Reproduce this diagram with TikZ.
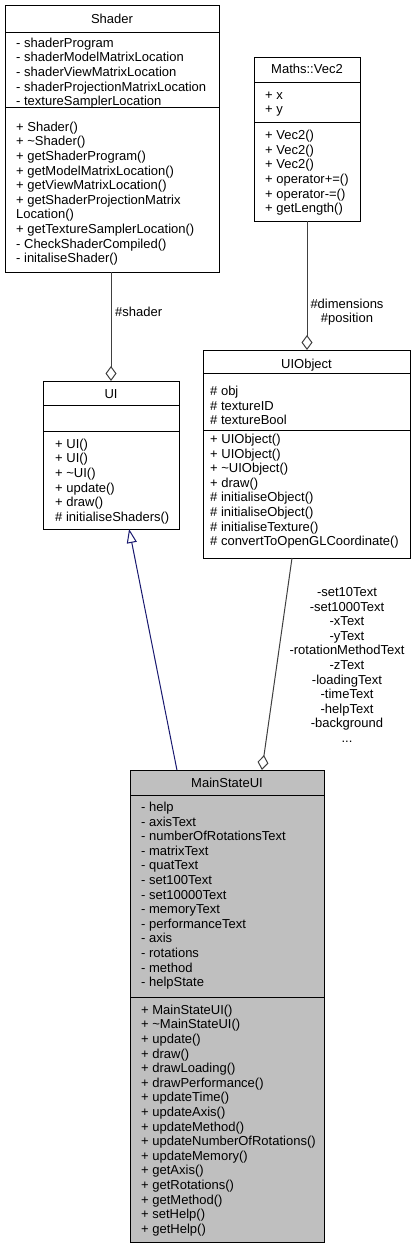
\documentclass[tikz,border=0pt]{standalone}
\usepackage{fontspec}
\setmainfont{Liberation Sans}
\usetikzlibrary{arrows.meta,calc}
\definecolor{edgegray}{HTML}{404040}
\definecolor{navyblue}{HTML}{191970}
\definecolor{mainfill}{HTML}{BFBFBF}
\newcommand\umlfont{\fontsize{13}{14.6}\selectfont}
\tikzset{
  cls/.style={draw=black, line width=1pt, inner sep=0pt, outer sep=0pt, fill=white},
  ttl/.style={font=\umlfont, inner sep=0pt, anchor=base},
  txt/.style={font=\umlfont, align=left, inner sep=0pt, anchor=west, yshift=-2pt},
  sepline/.style={draw=black, line width=1pt},
  agg/.style={draw=edgegray, line width=1pt, -{Diamond[open,length=15pt,width=11pt]}},
  inh/.style={draw=navyblue, line width=1pt, -{Triangle[open,length=14pt,width=10pt]}},
  lbl/.style={font=\umlfont, align=center, inner sep=0pt}
}
\begin{document}
\begin{tikzpicture}[x=1pt,y=-1pt]
\path[use as bounding box, fill=white] (0,0) rectangle (416,1248);

% Shader
\node[cls, minimum width=214pt, minimum height=267pt] (shader) at (112,138.5) {};
\draw[sepline] ($(shader.north west)+(0,27)$) -- ($(shader.north east)+(0,27)$);
\draw[sepline] ($(shader.north west)+(0,102)$) -- ($(shader.north east)+(0,102)$);
\node[ttl] (shadert) at (112,23.5) {Shader};
\node[txt] (shadera) at (16,71.5) {\strut- shaderProgram\\- shaderModelMatrixLocation\\- shaderViewMatrixLocation\\- shaderProjectionMatrixLocation\\- textureSamplerLocation\strut};
\node[txt] (shaderm) at (16,192) {\strut+ Shader()\\+ \textasciitilde Shader()\\+ getShaderProgram()\\+ getModelMatrixLocation()\\+ getViewMatrixLocation()\\+ getShaderProjectionMatrix\\Location()\\+ getTextureSamplerLocation()\\- CheckShaderCompiled()\\- initaliseShader()\strut};

% Maths::Vec2
\node[cls, minimum width=106pt, minimum height=164pt] (vec) at (307,139) {};
\draw[sepline] ($(vec.north west)+(0,25)$) -- ($(vec.north east)+(0,25)$);
\draw[sepline] ($(vec.north west)+(0,65)$) -- ($(vec.north east)+(0,65)$);
\node[ttl] (vect) at (307,73.5) {Maths::Vec2};
\node[txt] (veca) at (265,101.7) {\strut+ x\\+ y\strut};
\node[txt] (vecm) at (265,171.3) {\strut+ Vec2()\\+ Vec2()\\+ Vec2()\\+ operator+=()\\+ operator-=()\\+ getLength()\strut};

% UI
\node[cls, minimum width=136pt, minimum height=148pt] (ui) at (111,455) {};
\draw[sepline] ($(ui.north west)+(0,24)$) -- ($(ui.north east)+(0,24)$);
\draw[sepline] ($(ui.north west)+(0,50)$) -- ($(ui.north east)+(0,50)$);
\node[ttl] (uit) at (111,398) {UI};
\node[txt] (uim) at (55,479.8) {\strut+ UI()\\+ UI()\\+ \textasciitilde UI()\\+ update()\\+ draw()\\\# initialiseShaders()\strut};

% UIObject
\node[cls, minimum width=207pt, minimum height=208pt] (uiobj) at (306.5,454) {};
\draw[sepline] ($(uiobj.north west)+(0,23)$) -- ($(uiobj.north east)+(0,23)$);
\draw[sepline] ($(uiobj.north west)+(0,80)$) -- ($(uiobj.north east)+(0,80)$);
\node[ttl] (uiobjt) at (306.5,368.5) {UIObject};
\node[txt] (uiobja) at (210,405.2) {\strut\# obj\\\# textureID\\\# textureBool\strut};
\node[txt] (uiobjm) at (210,489.7) {\strut+ UIObject()\\+ UIObject()\\+ \textasciitilde UIObject()\\+ draw()\\\# initialiseObject()\\\# initialiseObject()\\\# initialiseTexture()\\\# convertToOpenGLCoordinate()\strut};

% MainStateUI
\node[cls, fill=mainfill, minimum width=194pt, minimum height=472pt] (main) at (227,1006) {};
\draw[sepline] ($(main.north west)+(0,25)$) -- ($(main.north east)+(0,25)$);
\draw[sepline] ($(main.north west)+(0,227)$) -- ($(main.north east)+(0,227)$);
\node[ttl] (maint) at (227,787) {MainStateUI};
\node[txt] (maina) at (141,894.2) {\strut- help\\- axisText\\- numberOfRotationsText\\- matrixText\\- quatText\\- set100Text\\- set10000Text\\- memoryText\\- performanceText\\- axis\\- rotations\\- method\\- helpState\strut};
\node[txt] (mainm) at (141,1118.8) {\strut+ MainStateUI()\\+ \textasciitilde MainStateUI()\\+ update()\\+ draw()\\+ drawLoading()\\+ drawPerformance()\\+ updateTime()\\+ updateAxis()\\+ updateMethod()\\+ updateNumberOfRotations()\\+ updateMemory()\\+ getAxis()\\+ getRotations()\\+ getMethod()\\+ setHelp()\\+ getHelp()\strut};

% connectors
\draw[agg] (shader.south -| ui.north) -- (ui.north);
\node[lbl, anchor=west] (lshader) at (115,312) {\#shader};

\draw[agg] (vec.south) -- (vec.south |- uiobj.north);
\node[lbl] (lvec) at (347,312.5) {\strut\#dimensions\\\#position\strut};

\draw[inh] ($(main.north west)!0.242!(main.north east)$) -- ($(ui.south west)!0.633!(ui.south east)$);

\draw[agg] ($(uiobj.south west)!0.43!(uiobj.south east)$) -- ($(main.north west)!0.68!(main.north east)$);
\node[lbl] (lobj) at (347,666.5) {\strut-set10Text\\-set1000Text\\-xText\\-yText\\-rotationMethodText\\-zText\\-loadingText\\-timeText\\-helpText\\-background\\...\strut};
\end{tikzpicture}
\end{document}
